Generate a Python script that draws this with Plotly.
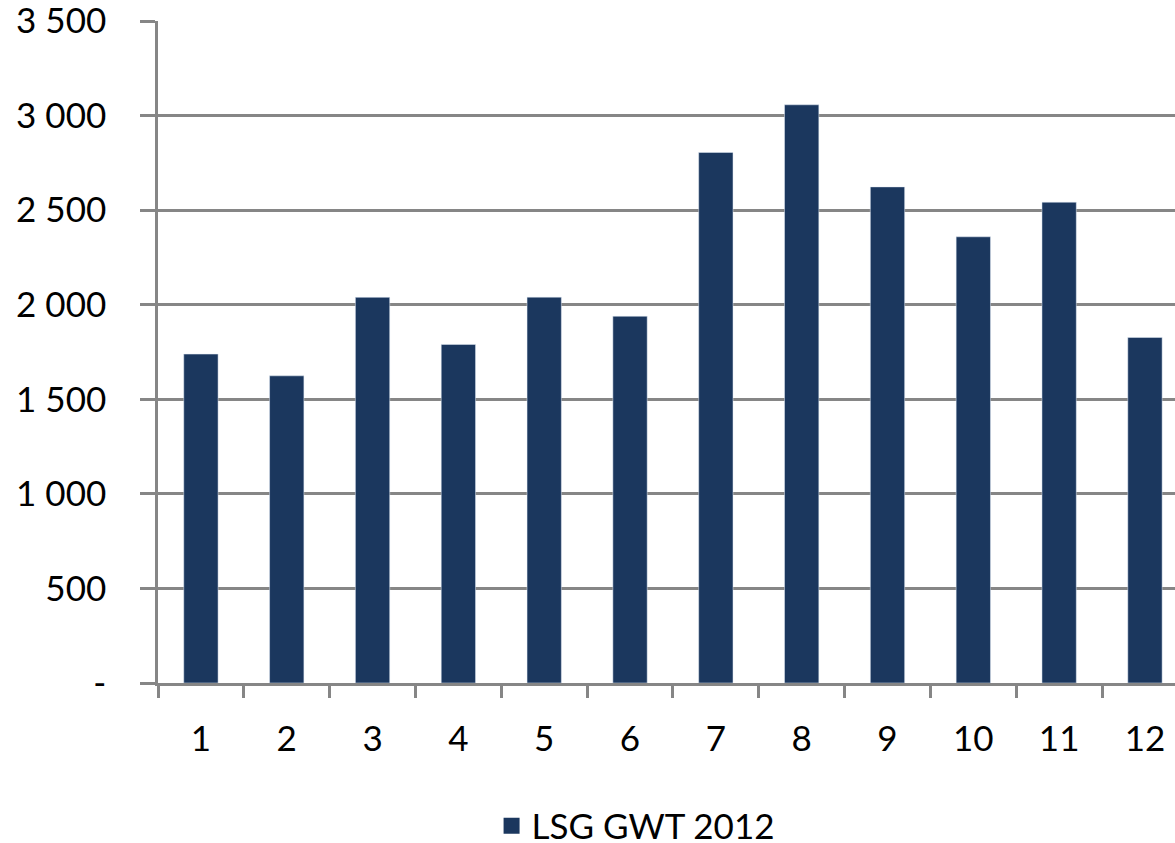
import plotly.graph_objects as go

months = ["1", "2", "3", "4", "5", "6", "7", "8", "9", "10", "11", "12"]
values = [1739, 1624, 2039, 1790, 2040, 1939, 2805, 3057, 2623, 2359, 2542, 1827]
series_name = "LSG GWT 2012"
y_tickvals = [0, 500, 1000, 1500, 2000, 2500, 3000, 3500]
y_ticktext = ["-", "500", "1 000", "1 500", "2 000", "2 500", "3 000", "3 500"]

bar_color = "#1B375E"
grid_color = "#868686"
font_family = "Lato, Carlito, 'Open Sans', sans-serif"

fig = go.Figure()
fig.add_trace(go.Bar(
    x=months, y=values, name=series_name, marker_color=bar_color,
    width=0.4, showlegend=False,
))
fig.add_trace(go.Scatter(
    x=[None], y=[None], mode="markers", name=series_name,
    marker=dict(symbol="square", size=20, color=bar_color),
    showlegend=True,
))

fig.update_layout(
    width=1175, height=843,
    margin=dict(l=158, r=0, t=21, b=160, autoexpand=False),
    paper_bgcolor="white", plot_bgcolor="white",
    font=dict(family=font_family, size=35, color="black"),
    showlegend=True,
    legend=dict(
        orientation="h", x=0.328, xanchor="left", y=-0.216, yanchor="middle",
        font=dict(size=35), itemwidth=30,
    ),
)
fig.update_xaxes(
    type="category", range=[-0.5, 11.35], tickson="boundaries",
    ticks="outside", ticklen=12, tickwidth=2.5, tickcolor=grid_color,
    showline=True, linecolor=grid_color, linewidth=2.5,
    showgrid=False, ticklabelstandoff=23, automargin=False,
    ticklabeloverflow="allow",
)
fig.update_yaxes(
    range=[0, 3500], tickvals=y_tickvals, ticktext=y_ticktext,
    ticks="outside", ticklen=15, tickwidth=2.5, tickcolor=grid_color,
    showline=True, linecolor=grid_color, linewidth=2.5,
    showgrid=True, gridcolor=grid_color, gridwidth=2.5,
    zeroline=False, ticklabelstandoff=27, automargin=False,
    ticklabeloverflow="allow",
)

fig.write_html(
    "out.html",
    config={"displayModeBar": False},
    post_script="document.body.style.margin='0';document.body.style.overflow='hidden';",
)
